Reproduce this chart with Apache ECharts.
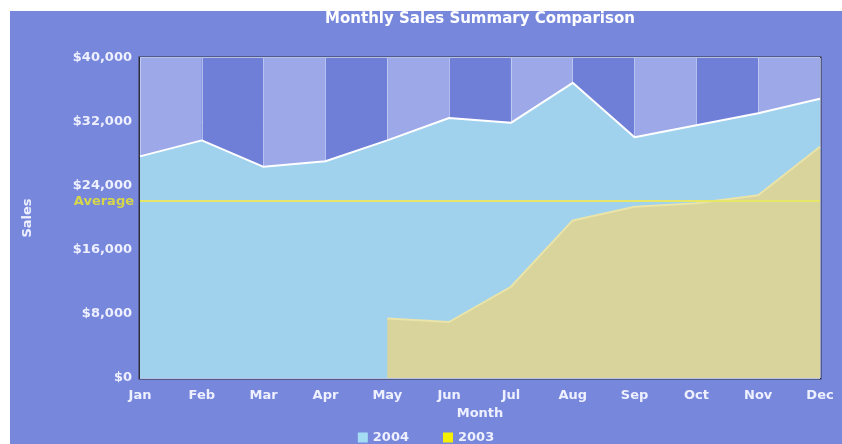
<!DOCTYPE html>
<html>
<head>
<meta charset="utf-8">
<script src="https://cdn.jsdelivr.net/npm/echarts@6/dist/echarts.min.js"></script>
<style>
    html, body {
        margin: 0;
        padding: 0;
        background: #ffffff;
    }

    #salesChart {
        position: absolute;
        left: 10px;
        top: 11px;
        width: 832px;
        height: 433px;
    }
</style>
</head>
<body>
<div id="salesChart"></div>

<script>
    // values
    var months = ['Jan', 'Feb', 'Mar', 'Apr', 'May', 'Jun', 'Jul', 'Aug', 'Sep', 'Oct', 'Nov', 'Dec'];
    var sales_2004 = [27700, 29700, 26400, 27100, 29700, 32500, 31900, 36900, 30100, 31600, 33100, 34900];
    // 2003 has no data before May
    var sales_2003 = [null, null, null, null, 7450, 7000, 11400, 19700, 21400, 21850, 22850, 28900];
    var average_value = 22100;
    var y_ticks = [0, 8000, 16000, 24000, 32000, 40000];

    var label_font = {color: '#eef0ff', fontFamily: 'DejaVu Sans', fontWeight: 'bold', fontSize: 13};

    var myChart = echarts.init(document.getElementById('salesChart'));

    var charts_option = {};
    charts_option['backgroundColor'] = '#7788dc';
    charts_option['animation'] = false;

    charts_option['title'] = {
        text: 'Monthly Sales Summary Comparison',
        left: 470,
        textAlign: 'center',
        top: 1,
        padding: 0,
        textStyle: {color: '#ffffff', fontFamily: 'DejaVu Sans', fontWeight: 'bold', fontSize: 15}
    };

    charts_option['legend'] = {
        data: ['2004', '2003'],
        bottom: 0,
        left: 'center',
        padding: 0,
        icon: 'rect',
        itemWidth: 10,
        itemHeight: 10,
        itemGap: 34,
        textStyle: label_font
    };

    charts_option['grid'] = {
        left: 130, right: 22, top: 47, bottom: 66,
        show: true, borderColor: '#2e2e3a', borderWidth: 3
    };

    charts_option['xAxis'] = {
        type: 'category',
        data: months,
        boundaryGap: false,
        name: 'Month',
        nameLocation: 'middle',
        nameGap: 28,
        nameTextStyle: label_font,
        axisLine: {show: false},
        axisTick: {show: false},
        axisLabel: Object.assign({margin: 11}, label_font),
        splitLine: {show: true, lineStyle: {color: 'rgba(205,215,250,0.7)', width: 1}},
        splitArea: {show: true, areaStyle: {color: ['#9ca8e8', '#6f7fd8']}}
    };

    charts_option['yAxis'] = {
        type: 'value',
        min: y_ticks[0],
        max: y_ticks[y_ticks.length - 1],
        interval: y_ticks[1] - y_ticks[0],
        name: 'Sales',
        nameLocation: 'middle',
        nameRotate: 90,
        nameGap: 106,
        nameTextStyle: label_font,
        axisLine: {show: false},
        axisTick: {show: false},
        axisLabel: Object.assign({
            margin: 8,
            formatter: function (v) { return '$' + v.toLocaleString('en-US'); }
        }, label_font),
        splitLine: {show: true, lineStyle: {color: 'rgba(205,220,255,0.85)', width: 2}}
    };

    charts_option['series'] = [
        {
            name: '2004', type: 'line', data: sales_2004,
            symbol: 'none', smooth: false,
            itemStyle: {color: '#a4dcf4'},
            lineStyle: {color: '#ffffff', width: 2},
            areaStyle: {color: '#a0d2ee', opacity: 1}
        },
        {
            name: '2003', type: 'line', data: sales_2003,
            symbol: 'none', smooth: false,
            itemStyle: {color: '#f4f000'},
            lineStyle: {color: '#eae4a8', width: 2},
            areaStyle: {color: '#d8d49c', opacity: 1},
            markLine: {
                silent: true,
                symbol: 'none',
                data: [{yAxis: average_value}],
                lineStyle: {color: '#e6e66a', type: 'solid', width: 2},
                label: {
                    show: true, position: 'start', formatter: 'Average', distance: 6,
                    color: '#d6d64a', fontFamily: 'DejaVu Sans', fontWeight: 'bold', fontSize: 13
                }
            }
        }
    ];

    myChart.setOption(charts_option);
</script>
</body>
</html>
